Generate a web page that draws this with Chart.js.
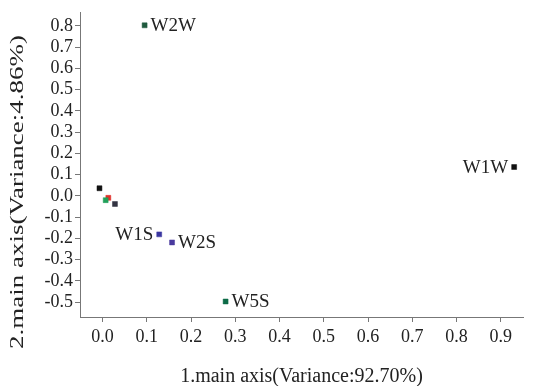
<!DOCTYPE html>
<html lang="en">
  <head>
    <meta charset="UTF-8" />
    <script src="https://cdn.jsdelivr.net/npm/chart.js"></script>
    <style>
      html, body { margin: 0; padding: 0; background: #fff; }
      #wrap { width: 533px; height: 386px; }
    </style>
  </head>
  <body>
    <div id="wrap"><canvas id="pcaChart"></canvas></div>
    <script>
      // sample scores on the two main axes
      const sampleNames = ["W2W", "W1W", "", "", "", "", "W1S", "W2S", "W5S"];
      const axis1 = [0.095, 0.93, -0.007, 0.013, 0.007, 0.028, 0.128, 0.157, 0.278];
      const axis2 = [0.803, 0.136, 0.036, -0.009, -0.02, -0.038, -0.181, -0.219, -0.497];
      const pointColors = ["#1f5a3e", "#111111", "#111111", "#e0302a", "#22a05a", "#333342", "#3a36a0", "#4a3a9e", "#0d6b47"];
      const labelSide = ["right", "left", "", "", "", "", "left", "right", "right"];
      const xTicks = [0.0, 0.1, 0.2, 0.3, 0.4, 0.5, 0.6, 0.7, 0.8, 0.9];
      const yTicks = [-0.5, -0.4, -0.3, -0.2, -0.1, 0.0, 0.1, 0.2, 0.3, 0.4, 0.5, 0.6, 0.7, 0.8];
      const yTitle = "2.main axis(Variance:4.86%)";
      const xTitle = "1.main axis(Variance:92.70%)";

      const serif = "'Liberation Serif', 'DejaVu Serif', serif";

      const labelPlugin = {
        id: "sampleLabels",
        afterDatasetsDraw(chart) {
          const ctx = chart.ctx;
          const xs = chart.scales.x;
          const ys = chart.scales.y;
          ctx.save();
          ctx.font = "19px " + serif;
          ctx.fillStyle = "#222";
          ctx.textBaseline = "middle";
          sampleNames.forEach((name, i) => {
            if (!name) return;
            const px = xs.getPixelForValue(axis1[i]);
            const py = ys.getPixelForValue(axis2[i]);
            if (labelSide[i] === "left") {
              ctx.textAlign = "right";
              ctx.fillText(name, px - 6, py + 1);
            } else {
              ctx.textAlign = "left";
              ctx.fillText(name, px + 6, py + 1);
            }
          });
          // y axis title, stretched along its length like the original
          ctx.translate(18, 192);
          ctx.rotate(-Math.PI / 2);
          ctx.scale(1.5, 1);
          ctx.font = "18px " + serif;
          ctx.textAlign = "center";
          ctx.fillText(yTitle, 0, 0);
          ctx.restore();
        },
      };

      new Chart(document.getElementById("pcaChart"), {
        type: "scatter",
        data: {
          datasets: [
            {
              data: axis1.map((v, i) => ({ x: v, y: axis2[i] })),
              pointStyle: "rect",
              pointRadius: 3.5,
              pointHoverRadius: 3.5,
              backgroundColor: pointColors,
              borderColor: pointColors,
              borderWidth: 0.5,
            },
          ],
        },
        options: {
          responsive: true,
          maintainAspectRatio: false,
          animation: false,
          layout: { padding: { left: 0, right: 10, top: 4, bottom: 0 } },
          plugins: {
            legend: { display: false },
            tooltip: { enabled: false },
          },
          scales: {
            x: {
              type: "linear",
              min: -0.051,
              max: 0.95,
              afterBuildTicks: (s) => { s.ticks = xTicks.map((v) => ({ value: v })); },
              afterFit: (s) => { s.height = 69; },
              grid: { drawOnChartArea: false, drawTicks: true, tickLength: 5, color: "#777" },
              border: { color: "#777", width: 1 },
              ticks: {
                color: "#222",
                font: { family: serif, size: 18 },
                padding: 4,
                maxRotation: 0,
                autoSkip: false,
                callback: (v) => Number(v).toFixed(1),
              },
              title: {
                display: true,
                text: xTitle,
                color: "#222",
                font: { family: serif, size: 20 },
                padding: { top: 0, bottom: -3 },
              },
            },
            y: {
              type: "linear",
              min: -0.57,
              max: 0.862,
              afterBuildTicks: (s) => { s.ticks = yTicks.map((v) => ({ value: v })); },
              afterFit: (s) => { s.width = 80; },
              grid: { drawOnChartArea: false, drawTicks: true, tickLength: 5, color: "#777" },
              border: { color: "#777", width: 1 },
              ticks: {
                color: "#222",
                font: { family: serif, size: 18 },
                padding: 2,
                autoSkip: false,
                callback: (v) => Number(v).toFixed(1),
              },
            },
          },
        },
        plugins: [labelPlugin],
      });
    </script>
  </body>
</html>
